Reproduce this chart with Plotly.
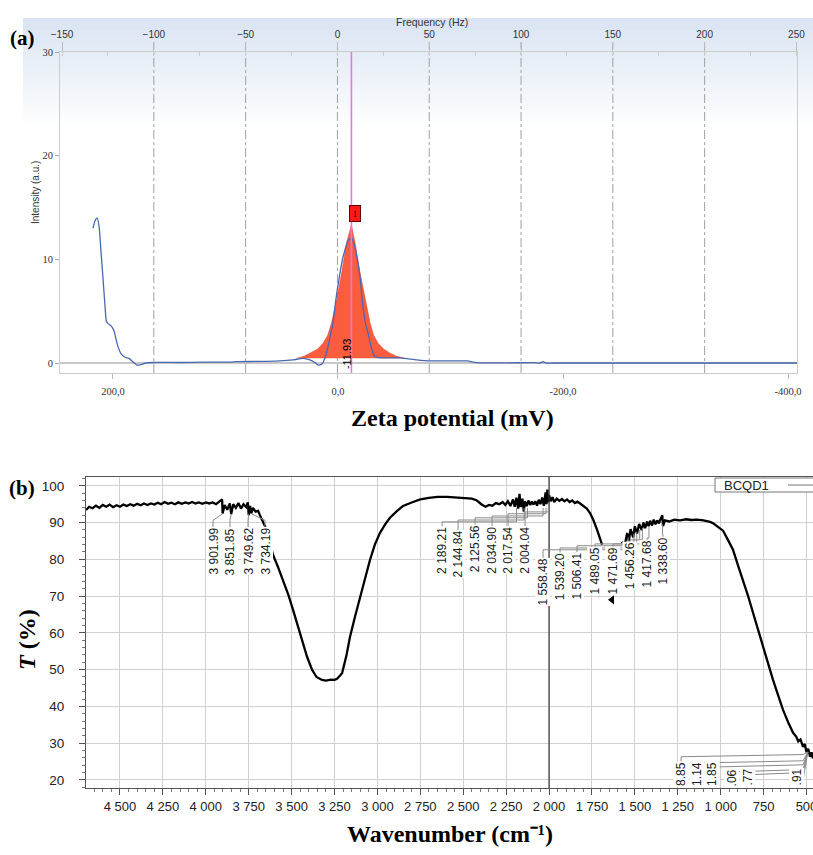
import plotly.graph_objects as go

W, H = 813, 855
def px(x): return x / W
def py(y): return 1 - y / H

# ---------------- Panel (a): zeta potential ----------------
zeta_blue = [217.8, 216.0, 214.2, 212.4, 210.7, 208.9, 207.1, 205.8, 204.4, 201.8,
             199.1, 197.3, 195.6, 192.9, 189.3, 185.8, 182.2, 178.7, 175.1, 170.7,
             164.4, 140.0, 120.0, 96.0, 90.0, 70.0, 52.0, 40.0, 31.0, 25.0,
             20.0, 17.8, 14.2, 10.7, 8.0, 6.2, 4.4, 1.8, -1.8, -4.4,
             -6.2, -8.4, -10.7, -12.4, -14.2, -16.9, -19.6, -22.2, -24.9, -26.7,
             -30.2, -32.9, -40.0, -55.1, -70.2, -81.8, -114.7, -123.6, -173.3, -179.6,
             -182.2, -184.9, -191.1, -250.0, -330.0, -408.0]
int_blue = [13.0, 13.7, 14.0, 13.2, 10.8, 8.2, 5.5, 4.0, 3.8, 3.6,
            3.1, 2.3, 1.6, 0.9, 0.55, 0.45, 0.1, -0.2, -0.15, 0.0,
            0.05, 0.05, 0.08, 0.08, 0.13, 0.15, 0.2, 0.3, 0.45, 0.3,
            0.0, -0.2, -0.1, 0.8, 2.0, 3.0, 3.9, 6.2, 8.7, 10.2,
            10.9, 11.7, 12.0, 12.0, 11.5, 10.2, 8.3, 5.4, 3.6, 2.9,
            1.25, 0.6, 0.5, 0.5, 0.3, 0.2, 0.2, 0.03, 0.03, 0.0,
            0.12, 0.0, 0.0, 0.0, 0.0, 0.0]

zeta_peak = [36.7, 30.0, 24.9, 18.0, 13.3, 9.0, 5.6, 1.2, -3.3, -7.7, -11.93,
             -15.1, -19.6, -24.0, -28.4, -31.5, -35.6, -40.5, -46.2, -52.0, -59.6]
int_peak = [0.45, 0.65, 0.95, 1.35, 1.9, 2.7, 3.9, 6.1, 8.7, 11.6, 13.3,
            11.6, 8.7, 6.1, 3.9, 2.7, 1.9, 1.35, 0.95, 0.65, 0.45]
peak_zeta = -11.93
peak_label = "-11.93"

freq_ticks = [-150, -100, -50, 0, 50, 100, 150, 200, 250]
freq_grid = [-100, -50, 0, 50, 100, 150, 200]
zeta_tickvals = [200, 0, -200, -400]
zeta_ticktext = ["200,0", "0,0", "-200,0", "-400,0"]
int_ticks = [0, 10, 20, 30]

# ---------------- Panel (b): FTIR ----------------
wn_ftir = [4698, 4680, 4660, 4640, 4620, 4600, 4580, 4560, 4540, 4520,
           4500, 4480, 4460, 4440, 4420, 4400, 4380, 4360, 4340, 4320,
           4300, 4280, 4260, 4240, 4220, 4200, 4180, 4160, 4140, 4120,
           4100, 4080, 4060, 4040, 4020, 4000, 3980, 3960, 3940, 3920,
           3905, 3902, 3890, 3875, 3860, 3852, 3840, 3825, 3810, 3795,
           3780, 3765, 3755, 3750, 3742, 3735, 3725, 3710, 3695, 3680,
           3667, 3650, 3630, 3608, 3580, 3550, 3520, 3492, 3460, 3434,
           3410, 3381, 3355, 3323, 3300, 3270, 3250, 3235, 3206, 3180,
           3160, 3130, 3101, 3070, 3043, 3015, 2985, 2955, 2927, 2890,
           2851, 2793, 2750, 2700, 2650, 2594, 2550, 2500, 2450, 2420,
           2395, 2370, 2350, 2330, 2310, 2290, 2270, 2255, 2240, 2225,
           2210, 2200, 2190, 2180, 2172, 2165, 2155, 2147, 2140, 2130,
           2120, 2110, 2100, 2090, 2080, 2070, 2060, 2050, 2040, 2030,
           2020, 2015, 2010, 2005, 2000, 1990, 1980, 1970, 1955, 1940,
           1925, 1910, 1895, 1880, 1865, 1850, 1835, 1819, 1800, 1780,
           1761, 1740, 1720, 1705, 1691, 1640, 1575, 1560, 1545, 1535,
           1525, 1510, 1500, 1487, 1475, 1460, 1450, 1440, 1429, 1420,
           1411, 1400, 1390, 1380, 1370, 1360, 1350, 1340, 1336, 1325,
           1300, 1270, 1237, 1200, 1170, 1138, 1100, 1062, 1044, 1020,
           1000, 986, 960, 928, 900, 869, 840, 811, 780, 753,
           725, 695, 665, 636, 605, 578, 560, 548, 535, 520,
           510, 500, 490, 479, 470, 462]
t_ftir = [93.4, 94.3, 93.9, 94.6, 94.0, 94.8, 94.3, 94.9, 94.2, 94.7,
          94.3, 94.9, 94.5, 95.0, 94.6, 95.1, 94.7, 95.2, 94.8, 95.2,
          94.9, 95.4, 95.0, 95.6, 95.1, 95.4, 95.0, 95.5, 95.1, 95.5,
          95.2, 95.6, 95.2, 95.5, 95.1, 95.5, 95.2, 95.5, 95.0, 95.8,
          96.3, 92.5, 94.8, 93.5, 95.2, 92.3, 95.0, 94.0, 95.3, 93.8,
          95.0, 94.2, 95.5, 92.0, 94.5, 92.5, 94.0, 93.0, 93.2, 91.5,
          90.0, 88.5, 85.0, 81.2, 78.0, 74.4, 70.5, 66.3, 61.5, 57.3,
          53.5, 50.0, 48.0, 47.2, 47.0, 47.3, 47.2, 47.5, 49.0, 54.0,
          58.9, 64.5, 69.8, 75.0, 79.9, 84.0, 87.2, 89.5, 91.3, 93.0,
          94.5, 95.6, 96.3, 96.7, 97.0, 97.0, 96.9, 96.6, 96.5, 96.0,
          95.0, 94.3, 94.8, 94.6, 95.3, 95.0, 95.6, 94.8, 95.8, 94.5,
          96.3, 94.3, 96.8, 93.8, 97.8, 94.2, 96.5, 93.0, 95.8, 94.5,
          96.0, 94.8, 95.7, 94.9, 95.8, 94.6, 96.2, 95.0, 96.8, 94.6,
          98.2, 95.0, 99.0, 95.5, 97.5, 95.8, 96.9, 95.6, 96.5, 95.9,
          96.4, 95.8, 96.3, 95.6, 96.0, 95.3, 95.7, 95.2, 94.5, 93.8,
          92.6, 90.5, 88.0, 86.0, 84.0, None, 84.8, 83.5, 87.2, 85.0,
          88.2, 86.0, 89.0, 87.0, 89.6, 88.0, 90.0, 88.5, 90.3, 89.0,
          90.5, 89.2, 90.8, 89.5, 90.6, 89.8, 91.0, 92.0, 89.0, 90.6,
          90.3, 90.8, 90.6, 90.9, 90.7, 90.8, 90.6, 90.2, 89.8, 89.0,
          88.5, 87.8, 85.5, 82.6, 78.5, 74.4, 70.0, 65.4, 60.5, 56.2,
          51.5, 47.2, 43.0, 39.0, 35.5, 32.8, 31.8, 30.5, 31.0, 29.0,
          29.8, 27.5, 28.5, 26.3, 27.5, 25.8]
min_wn = [1633]
min_t = [69.0]

# peak label groups (text, peak position, label position, label top)
g1_text = ["3 901.99", "3 851.85", "3 749.62", "3 734.19"]
g1_peak = [3901.99, 3851.85, 3749.62, 3734.19]
g1_pos = [3958, 3859, 3754, 3655]
g1_top = [88.8, 88.8, 88.8, 88.8]

g2_text = ["2 189.21", "2 144.84", "2 125.56", "2 034.90", "2 017.54", "2 004.04"]
g2_peak = [2189.21, 2144.84, 2125.56, 2034.90, 2017.54, 2004.04]
g2_pos = [2623, 2530, 2431, 2332, 2239, 2140]
g2_top = [89.0, 88.0, 89.4, 89.0, 89.0, 89.0]

g3_text = ["1 558.48", "1 539.20", "1 506.41", "1 489.05", "1 471.69", "1 456.26", "1 417.68", "1 338.60"]
g3_peak = [1558.48, 1539.20, 1506.41, 1489.05, 1471.69, 1456.26, 1417.68, 1338.60]
g3_pos = [2035, 1936, 1837, 1732, 1627, 1528, 1429, 1336]
g3_top = [80.4, 81.8, 82.0, 83.4, 83.4, 84.8, 85.3, 86.1]

g4_text = ["8.85", "1.14", "1.85", ".06", ".77", ".91"]
g4_pos = [1231, 1138, 1050, 934, 840, 555]

legend_name = "BCQD1"

# ---------------- Figure ----------------
fig = go.Figure()
fig.add_trace(go.Scatter(x=zeta_peak, y=int_peak, mode="lines", fill="toself",
                         fillcolor="rgb(250,92,62)", line=dict(color="rgb(228,70,48)", width=0.6),
                         xaxis="x", yaxis="y", hoverinfo="skip"))
fig.add_trace(go.Scatter(x=zeta_blue, y=int_blue, mode="lines",
                         line=dict(color="#4a68b0", width=1.3, shape="spline", smoothing=0.6),
                         xaxis="x", yaxis="y"))
fig.add_trace(go.Scatter(x=freq_ticks, y=[None] * len(freq_ticks), mode="lines",
                         xaxis="x2", yaxis="y", hoverinfo="skip"))
fig.add_trace(go.Scatter(x=wn_ftir, y=t_ftir, mode="lines", connectgaps=False,
                         line=dict(color="black", width=2.3), xaxis="x3", yaxis="y3"))
fig.add_trace(go.Scatter(x=min_wn, y=min_t, mode="markers",
                         marker=dict(symbol="triangle-left", size=8, color="black"),
                         xaxis="x3", yaxis="y3", cliponaxis=False))

shapes = []
# light blue gradient header behind panel (a)
N = 28
for i in range(N):
    t = i / (N - 1)
    r = int(218 + (255 - 218) * t)
    g = int(228 + (255 - 228) * t)
    b = int(243 + (255 - 243) * t)
    shapes.append(dict(type="rect", xref="paper", yref="paper", layer="below",
                       x0=px(23), x1=1, y0=py(18 + (i + 1) * 4), y1=py(18 + i * 4),
                       fillcolor=f"rgb({r},{g},{b})", line=dict(width=0)))
# frequency grid (dash-dot) for panel (a)
for fg in freq_grid:
    shapes.append(dict(type="line", xref="x2", yref="y domain", x0=fg, x1=fg, y0=0, y1=1.03,
                       layer="below", line=dict(color="#a0a0a0", width=1, dash="dashdot")))
# peak marker line (a)
shapes.append(dict(type="line", xref="x", yref="y domain", x0=peak_zeta, x1=peak_zeta, y0=0, y1=1,
                   line=dict(color="#e07ae0", width=1.6)))
# 2000 cm-1 divider (b)
shapes.append(dict(type="line", xref="x3", yref="y3 domain", x0=2000, x1=2000, y0=0, y1=1,
                   line=dict(color="#333333", width=1.2)))

def pathstr(pts):
    return "M " + " L ".join(f"{x},{y}" for x, y in pts)

lead = dict(color="#8a8a8a", width=1)
for p, pos, top in zip(g1_peak, g1_pos, g1_top):
    shapes.append(dict(type="path", xref="x3", yref="y3", line=lead,
                       path=pathstr([(pos, top), (pos, 90.6), (p, 92.4)])))
g2_elb = [90.2, 90.7, 91.3, 91.8, 92.4, 92.9]
for p, pos, top, e in zip(g2_peak, g2_pos, g2_top, g2_elb):
    shapes.append(dict(type="path", xref="x3", yref="y3", line=lead,
                       path=pathstr([(pos, top), (pos, e), (p, e), (p, 94.0)])))
g3_elb = [82.6, 83.1, 83.7, 84.2, 84.2, 85.3, 85.8, 86.7]
g3_end = [84.6, 86.0, 87.0, 87.5, 88.0, 88.5, 89.0, 89.5]
for p, pos, top, e, en in zip(g3_peak, g3_pos, g3_top, g3_elb, g3_end):
    shapes.append(dict(type="path", xref="x3", yref="y3", line=lead,
                       path=pathstr([(pos, top), (pos, e), (p, e), (p, en)])))
g4_elb = [26.3, 24.6, 23.5, 22.2, 21.4, 19.4]
g4_top = [24.6, 22.6, 22.6, 21.0, 21.0, 19.0]
for pos, top, e in zip(g4_pos, g4_top, g4_elb):
    shapes.append(dict(type="path", xref="x3", yref="y3", line=lead,
                       path=pathstr([(pos, top), (pos, e), (520, e + 0.6), (492, 27.6)])))
# legend box
shapes.append(dict(type="rect", xref="paper", yref="paper", x0=px(715), x1=px(830),
                   y0=py(492), y1=py(478), fillcolor="white", line=dict(color="#777", width=1)))
shapes.append(dict(type="line", xref="paper", yref="paper", x0=px(788), x1=1,
                   y0=py(485), y1=py(485), line=dict(color="#777", width=1)))

ann = []
lab_font = dict(family="Liberation Sans, Arial", size=12, color="#1a1a1a")
for txt, pos, top in zip(g1_text + g2_text + g3_text, g1_pos + g2_pos + g3_pos, g1_top + g2_top + g3_top):
    ann.append(dict(x=pos, y=top, xref="x3", yref="y3", text=txt, textangle=-90, showarrow=False,
                    xanchor="center", yanchor="top", font=lab_font, bgcolor="white", borderpad=0))
for txt, pos in zip(g4_text, g4_pos):
    ann.append(dict(x=pos, y=18.1, xref="x3", yref="y3", text=txt, textangle=-90, showarrow=False,
                    xanchor="center", yanchor="bottom", font=lab_font, bgcolor="white", borderpad=0))
ann.append(dict(x=px(722), y=py(485), xref="paper", yref="paper", text=legend_name, showarrow=False,
                xanchor="left", yanchor="middle",
                font=dict(family="Liberation Sans, Arial", size=13, color="#222")))
# panel (a) annotations
ann.append(dict(x=-15.5, y=14.4, xref="x", yref="y", text="1", showarrow=False,
                xanchor="center", yanchor="middle",
                bgcolor="#ff1a1a", bordercolor="#600000", borderwidth=1, borderpad=1,
                width=8, height=13, font=dict(family="Liberation Serif", size=9, color="black")))
ann.append(dict(x=-7.5, y=0.9, xref="x", yref="y", text=peak_label, textangle=-90, showarrow=False,
                xanchor="center", yanchor="middle",
                font=dict(family="Liberation Sans, Arial", size=11, color="black")))

def pann(x, y, text, font, angle=0):
    return dict(x=px(x), y=py(y), xref="paper", yref="paper", text=text, showarrow=False,
                xanchor="center", yanchor="middle", textangle=angle, font=font)

big = dict(family="Liberation Serif, Times New Roman", size=24, color="black")
ann.append(pann(432, 22, "Frequency (Hz)",
                dict(family="Liberation Sans Narrow, Liberation Sans", size=10.5, color="#333")))
ann.append(pann(35, 193, "Intensity (a.u.)",
                dict(family="Liberation Sans, Arial", size=10, color="#333"), -90))
ann.append(pann(22, 38, "<b>(a)</b>", dict(family="Liberation Serif", size=21, color="black")))
ann.append(pann(22, 488, "<b>(b)</b>", dict(family="Liberation Serif", size=21, color="black")))
ann.append(pann(452, 418, "<b>Zeta potential (mV)</b>", big))
ann.append(pann(450, 834, "<b>Wavenumber (cm⁻¹)</b>", big))
ann.append(pann(27, 640, "<b><i>T</i> (%)</b>", big, -90))

fig.update_layout(
    width=W, height=H, margin=dict(l=0, r=0, t=0, b=0, autoexpand=False),
    paper_bgcolor="white", plot_bgcolor="rgba(0,0,0,0)",
    separators=". ", showlegend=False,
    shapes=shapes, annotations=ann,
    xaxis=dict(domain=[px(60), px(797)], anchor="y", range=[247.1, -408.0], automargin=False,
               tickmode="array", tickvals=zeta_tickvals, ticktext=zeta_ticktext,
               ticks="outside", ticklen=5, tickcolor="#bbbbbb", showgrid=False, zeroline=False,
               showline=True, linecolor="#cccccc", ticklabelstandoff=3, ticklabeloverflow="allow",
               tickfont=dict(family="Liberation Serif", size=10.5, color="#333")),
    xaxis2=dict(overlaying="x", anchor="y", side="top", range=[-151.1, 250.3], automargin=False,
                tickmode="linear", tick0=0, dtick=50, ticks="outside", ticklen=9, tickcolor="#bbbbbb",
                showgrid=False, zeroline=False, ticklabeloverflow="allow",
                showline=True, linecolor="#cccccc",
                minor=dict(dtick=25, tick0=0, ticks="inside", ticklen=4, tickcolor="#cccccc", showgrid=False),
                tickfont=dict(family="Liberation Sans Narrow, Liberation Sans", size=10, color="#333")),
    yaxis=dict(domain=[py(373), py(52)], anchor="x", range=[-0.965, 30], automargin=False,
               tickmode="array", tickvals=int_ticks, ticks="outside", ticklen=4, tickcolor="#aaaaaa",
               showgrid=False, zeroline=True, zerolinecolor="#c8c8c8", zerolinewidth=1.5,
               showline=True, linecolor="#cccccc", mirror=True,
               tickfont=dict(family="Liberation Serif", size=10.5, color="#333")),
    xaxis3=dict(domain=[px(86), 1], anchor="y3", range=[4698, 462], automargin=False,
                tickmode="linear", tick0=0, dtick=250, tickformat=",d",
                ticks="outside", ticklen=6, tickcolor="#555",
                minor=dict(dtick=50, tick0=0, ticks="outside", ticklen=3, tickcolor="#777"),
                showgrid=True, gridcolor="#d0d0d0", zeroline=False,
                showline=True, linecolor="#555", mirror=True, ticklabeloverflow="allow",
                tickfont=dict(family="Liberation Sans Narrow, Liberation Sans, Arial", size=13, color="#222")),
    yaxis3=dict(domain=[py(788), py(477)], anchor="x3", range=[17.8, 102.4], automargin=False,
                tickmode="linear", tick0=0, dtick=10, ticks="outside", ticklen=6, tickcolor="#555",
                minor=dict(dtick=2, tick0=0, ticks="outside", ticklen=3, tickcolor="#777"),
                showgrid=True, gridcolor="#d0d0d0", zeroline=False,
                showline=True, linecolor="#555", ticklabelstandoff=12,
                tickfont=dict(family="Liberation Sans, Arial", size=13.5, color="#222")),
)

fig.write_html("out.html", config={"displayModeBar": False},
               post_script="document.body.style.margin='0';document.body.style.overflow='hidden';")
